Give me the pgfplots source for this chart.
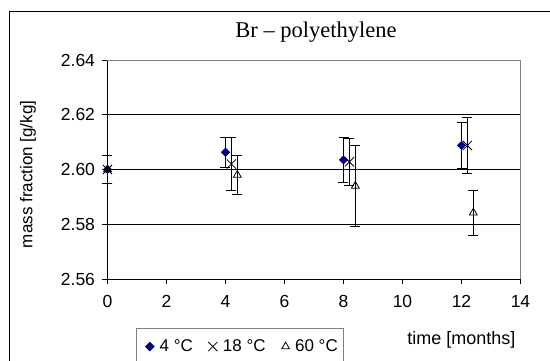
\documentclass[border=0pt]{standalone}
\usepackage{pgfplots}
\pgfplotsset{compat=1.18}
\usepackage{fontspec}
\setmainfont{Liberation Sans}
\newfontfamily\timesfont{Liberation Serif}
\definecolor{navyd}{RGB}{0,0,128}
\begin{document}
\begin{tikzpicture}[x=1pt,y=1pt]
\path[use as bounding box] (0,0) rectangle (550,360);
\draw[black, line width=1pt] (9.8,-20) -- (9.8,349) -- (570,349);
\begin{axis}[
  at={(107.5pt,81pt)}, anchor=south west,
  scale only axis, width=413pt, height=219pt,
  xmin=0, xmax=14, ymin=2.56, ymax=2.64,
  xtick={0,2,4,6,8,10,12,14}, ytick={2.56,2.58,2.60,2.62,2.64},
  tick align=outside, xtick pos=bottom, ytick pos=left,
  major tick length=5pt,
  tick style={black, line width=0.8pt},
  axis line style={black, line width=0.8pt},
  ymajorgrids, major grid style={black, line width=0.8pt},
  /pgf/number format/assume math mode=true,
  ticklabel style={font=\fontsize{17.5}{19}\selectfont},
  xticklabel style={yshift=-8pt},
  yticklabel style={xshift=-4pt, /pgf/number format/.cd, fixed, fixed zerofill, precision=2},
  title={\timesfont\fontsize{22.5}{26}\selectfont Br – polyethylene},
  title style={at={(0.505,1.10)}, anchor=center},
  xlabel={time [months]},
  xlabel style={at={(0.857,-0.28)}, anchor=center, font=\fontsize{18}{20}\selectfont},
  ylabel={mass fraction [g/kg]},
  ylabel style={at={(-0.1925,0.478)}, anchor=center, rotate=0, font=\fontsize{17}{19}\selectfont},
  legend columns=3,
  legend style={at={(0.069,-0.226)}, anchor=north west, draw=gray, line width=0.8pt,
    font=\fontsize{17}{19}\selectfont, inner xsep=4pt, inner ysep=9pt,
    /tikz/every even column/.append style={column sep=8.5pt},
    /tikz/every odd column/.append style={column sep=3.6pt}},
  legend image code/.code={\path (0pt,0pt); \draw[#1] plot coordinates {(9pt,0pt)};},
  error bars/error bar style={black, line width=0.8pt},
  error bars/error mark options={rotate=90, mark size=5pt, line width=0.8pt, black},
  clip=false,
]
\addplot[only marks, mark=square*, mark size=3pt, mark options={rotate=45, fill=navyd, draw=navyd},
  error bars/.cd, y dir=both, y explicit]
  table[x=x, y=y, y error=e] {
  x y e
  0 2.6000 0.0050
  4 2.6063 0.0054
  8 2.6035 0.0082
  12 2.6088 0.0085
  };
\addlegendentry{4 °C}
\addplot[only marks, mark=x, mark size=6.5pt, mark options={black, line width=0.8pt},
  error bars/.cd, y dir=both, y explicit]
  table[x=x, y=y, y error=e] {
  x y e
  0 2.6000 0.0050
  4.2 2.6020 0.0097
  8.2 2.6028 0.0087
  12.2 2.6088 0.0102
  };
\addlegendentry{18 °C}
\addplot[only marks, mark=triangle, mark size=4.5pt, mark options={black, line width=0.8pt, fill=white},
  error bars/.cd, y dir=both, y explicit]
  table[x=x, y=y, y error=e] {
  x y e
  0 2.6000 0.0050
  4.4 2.5980 0.0070
  8.4 2.5940 0.0148
  12.4 2.5842 0.0081
  };
\addlegendentry{60 °C}
\draw[gray, line width=0.8pt] (rel axis cs:0,1) -- (rel axis cs:1,1) -- (rel axis cs:1,0);
\end{axis}
\end{tikzpicture}
\end{document}
